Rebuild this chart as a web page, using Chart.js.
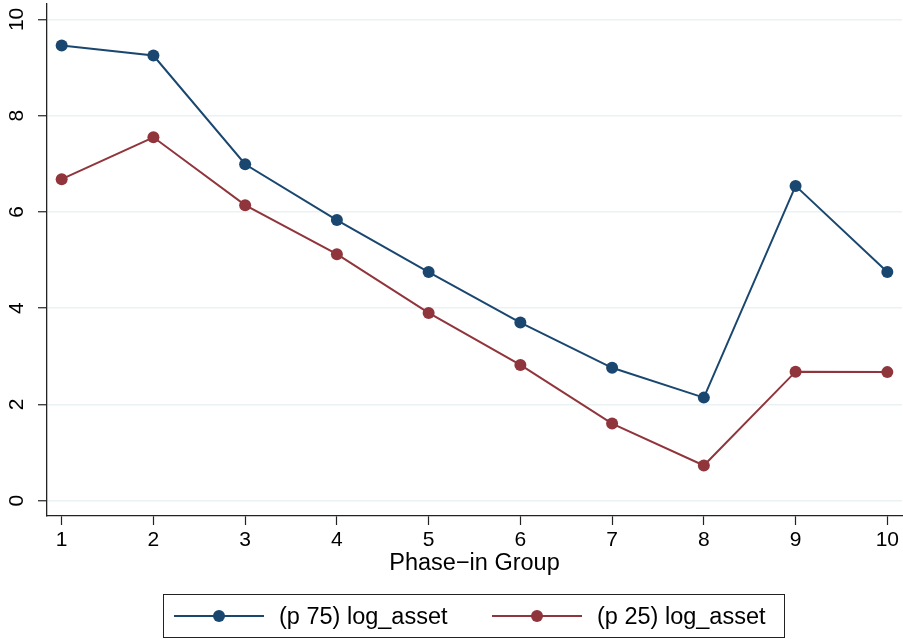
<!DOCTYPE html>
<html>
<head>
<meta charset="utf-8">
<script src="https://cdn.jsdelivr.net/npm/chart.js@4/dist/chart.umd.min.js"></script>
<style>
  html, body { margin: 0; padding: 0; background: #fff; }
  #wrap { position: relative; width: 903px; height: 639px; }
  #c { position: absolute; left: 0; top: 0; }
  #legend {
    position: absolute; left: 163px; top: 594px; width: 622px; height: 44px;
    border: 1px solid #222; box-sizing: border-box;
    font-family: 'Liberation Sans', Arial, sans-serif; font-size: 23.5px; color: #000;
  }
  .item { position: absolute; top: 0; height: 42px; display: flex; align-items: center; }
  .item svg { display: block; margin-right: 15px; }
</style>
</head>
<body>
<div id="wrap">
  <canvas id="c" width="903" height="639"></canvas>
  <div id="legend"></div>
</div>
<script>
const groups = [1, 2, 3, 4, 5, 6, 7, 8, 9, 10];
const p75 = [9.46, 9.25, 6.99, 5.83, 4.75, 3.70, 2.76, 2.14, 6.54, 4.75];
const p25 = [6.68, 7.55, 6.14, 5.12, 3.90, 2.82, 1.60, 0.73, 2.68, 2.67];
const seriesNames = ['(p 75) log_asset', '(p 25) log_asset'];
const seriesColors = ['#1a476f', '#90353b'];
const yTicks = [0, 2, 4, 6, 8, 10];
const xTicks = groups;
const xTitle = 'Phase\u2212in Group';

const FONT = "'Liberation Sans', Arial, sans-serif";

const rotatedYLabels = {
  id: 'rotatedYLabels',
  afterDraw(chart) {
    const ys = chart.scales.y;
    const ctx = chart.ctx;
    ctx.save();
    ctx.fillStyle = '#000';
    ctx.font = '21px ' + FONT;
    ctx.textAlign = 'center';
    ctx.textBaseline = 'middle';
    yTicks.forEach(v => {
      const py = ys.getPixelForValue(v);
      ctx.save();
      ctx.translate(17.5, py);
      ctx.rotate(-Math.PI / 2);
      ctx.fillText(String(v), 0, 0);
      ctx.restore();
    });
    ctx.restore();
  }
};

const mk = (vals, i) => ({
  label: seriesNames[i],
  data: groups.map((g, k) => ({ x: g, y: vals[k] })),
  borderColor: seriesColors[i],
  backgroundColor: seriesColors[i],
  borderWidth: 2,
  pointRadius: 6,
  pointHoverRadius: 6,
  pointBorderWidth: 0,
  tension: 0
});

new Chart(document.getElementById('c'), {
  type: 'line',
  data: { datasets: [mk(p75, 0), mk(p25, 1)] },
  options: {
    responsive: false,
    animation: false,
    layout: { autoPadding: false, padding: { top: 4, right: 1, bottom: 61, left: 0 } },
    plugins: { legend: { display: false }, tooltip: { enabled: false } },
    scales: {
      x: {
        type: 'linear',
        min: 0.84,
        max: 10.16,
        afterBuildTicks: s => { s.ticks = xTicks.map(v => ({ value: v })); },
        afterFit: s => { s.height = 62; s.paddingLeft = 0; s.paddingRight = 0; },
        ticks: {
          autoSkip: false, maxRotation: 0, minRotation: 0,
          color: '#000', font: { family: FONT, size: 21 }, padding: 3,
          callback: v => String(v)
        },
        grid: { drawOnChartArea: false, drawTicks: true, tickLength: 9, tickColor: '#222', tickWidth: 1.2 },
        border: { display: true, color: '#222', width: 1.3 },
        title: { display: true, text: xTitle, color: '#000', font: { family: FONT, size: 23.5 }, padding: { top: 0, bottom: 0 } }
      },
      y: {
        type: 'linear',
        min: -0.32,
        max: 10.32,
        afterBuildTicks: s => { s.ticks = yTicks.map(v => ({ value: v })); },
        afterFit: s => { s.width = 47; s.paddingTop = 0; s.paddingBottom = 0; },
        ticks: { color: 'rgba(0,0,0,0)', font: { family: FONT, size: 1 } },
        grid: { color: '#eaf2f3', lineWidth: 1.5, drawTicks: true, tickLength: 9, tickColor: '#222', tickWidth: 1.2 },
        border: { display: true, color: '#222', width: 1.3 }
      }
    }
  },
  plugins: [rotatedYLabels]
});

// HTML legend
const legend = document.getElementById('legend');
const lefts = [10, 328];
seriesNames.forEach((name, i) => {
  const d = document.createElement('div');
  d.className = 'item';
  d.style.left = lefts[i] + 'px';
  const c = seriesColors[i];
  d.innerHTML = '<svg width="90" height="16"><line x1="0" y1="8" x2="90" y2="8" stroke="' + c +
    '" stroke-width="2"/><circle cx="45" cy="8" r="6" fill="' + c + '"/></svg><span>' + name + '</span>';
  legend.appendChild(d);
});
</script>
</body>
</html>
